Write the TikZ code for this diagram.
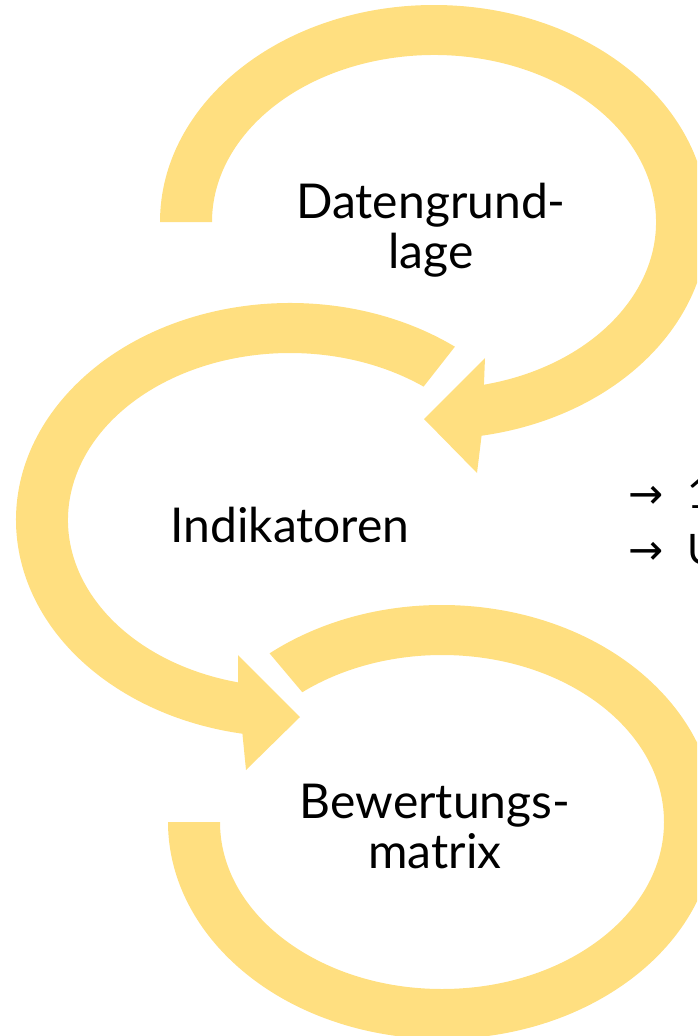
\documentclass[tikz,border=0pt]{standalone}
\usepackage{fontspec}
\setmainfont{Lato}
\newfontfamily\arrowfont{DejaVu Sans}
\usetikzlibrary{calc}
\definecolor{ringyellow}{RGB}{255,223,128}

\begin{document}
\begin{tikzpicture}[x=1pt,y=1pt]
		\begin{scope}
		
		\tikzstyle{ring}=[fill=ringyellow,
		draw=none
		]
		\tikzstyle{stage}=[align=center,
		inner sep=0pt,
		font=\fontsize{48}{50}\selectfont
		]
		\tikzstyle{note}=[anchor=base west,
		inner sep=0pt,
		font=\fontsize{42}{50}\selectfont
		]
		
		\useasboundingbox (0,0) rectangle (697,-1036);
		\clip (0,0) rectangle (697,-1036);
		
		\coordinate (c1) at (434, -222);
		\coordinate (c2) at (290, -520);
		\coordinate (c3) at (442, -822);
		
		% arrow heads
		\coordinate (h1a) at (477, -473);
		\coordinate (h1t) at (424, -419);
		\coordinate (h1b) at (485, -358);
		\coordinate (h2a) at (246, -770);
		\coordinate (h2t) at (300, -717);
		\coordinate (h2b) at (238, -655);
		
		\fill[ring] ($(c1)+(180:274 and 217)$) arc[start angle=180, end angle=-80, x radius=274, y radius=217]
			-- (h1a) -- (h1t) -- (h1b)
			-- ($(c1)+(-77:222 and 167)$) arc[start angle=-77, end angle=180, x radius=222, y radius=167] -- cycle;
		\fill[ring] ($(c2)+(53:274 and 217)$) arc[start angle=53, end angle=260, x radius=274, y radius=217]
			-- (h2a) -- (h2t) -- (h2b)
			-- ($(c2)+(256.5:222 and 167)$) arc[start angle=256.5, end angle=53, x radius=222, y radius=167] -- cycle;
		\fill[ring] ($(c3)+(129:274 and 217)$) arc[start angle=129, end angle=-180, x radius=274, y radius=217]
			-- ($(c3)+(180:222 and 167)$) arc[start angle=-180, end angle=129, x radius=222, y radius=167] -- cycle;
		
		\coordinate (pdat) at (431, -230);
		\coordinate (pind) at (290, -525);
		\coordinate (pbew) at (435, -826);
		
		\node[stage] (dat) at (pdat) {Datengrund-\\lage};
		\node[stage] (ind) at (pind) {Indikatoren};
		\node[stage] (bew) at (pbew) {Bewertungs-\\matrix};
		
		\node[note] (n1) at (628, -508) {{\arrowfont →}\hspace{24pt}1};
		\node[note] (n2) at (628, -564) {{\arrowfont →}\hspace{24pt}U};
		
		\end{scope}
\end{tikzpicture}
\end{document}
